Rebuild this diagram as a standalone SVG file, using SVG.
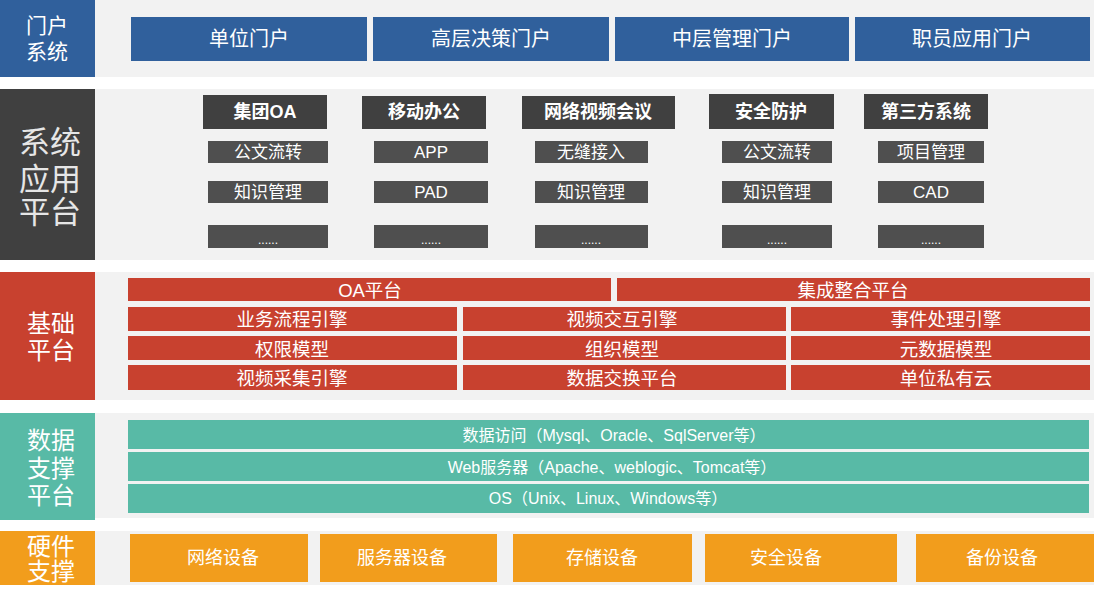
<svg xmlns="http://www.w3.org/2000/svg" width="1094" height="598" viewBox="0 0 1094 598">
<style>
text{font-family:"Liberation Sans","Noto Sans CJK SC",sans-serif;fill:#ffffff;text-anchor:middle;dominant-baseline:central}
.band{fill:#f2f2f2}
.blue{fill:#30609c}
.dark{fill:#404040}
.item{fill:#4f4f4f}
.red{fill:#c8412f}
.teal{fill:#58baa6}
.orange{fill:#f29d1c}
.lbl{font-size:21px}
.lbl2{font-size:24px}
.portal{font-size:20px}
.hdr{font-size:18px;font-weight:bold}
.it{font-size:17px}
.dots{font-size:12px}
.rt{font-size:18.5px}
.tt{font-size:16px}
.ot{font-size:18px}
</style>
<rect width="1094" height="598" fill="#ffffff"/>
<g id="bands">
<rect class="band" x="95" y="0" width="999" height="77"/>
<rect class="band" x="95" y="89" width="999" height="171"/>
<rect class="band" x="95" y="272" width="999" height="128"/>
<rect class="band" x="95" y="413" width="999" height="105"/>
<rect class="band" x="95" y="531" width="999" height="54"/>
</g>
<g id="label-portal"><rect class="blue" x="0" y="0" width="95" height="77"/><text class="lbl" x="47" y="25">门户</text><text class="lbl" x="47" y="51">系统</text></g>
<g id="portal-1"><rect class="blue" x="131" y="17" width="236" height="44"/><text class="portal" x="249" y="39">单位门户</text></g>
<g id="portal-2"><rect class="blue" x="373" y="17" width="236" height="44"/><text class="portal" x="491" y="39">高层决策门户</text></g>
<g id="portal-3"><rect class="blue" x="615" y="17" width="234" height="44"/><text class="portal" x="732" y="39">中层管理门户</text></g>
<g id="portal-4"><rect class="blue" x="855" y="17" width="235" height="44"/><text class="portal" x="972" y="39">职员应用门户</text></g>

<g id="label-app"><rect class="dark" x="0" y="89" width="95" height="171"/><text x="50" y="142" style="font-size:31px;fill:#e6e6e6">系统</text><text x="50" y="179" style="font-size:31px;fill:#e6e6e6">应用</text><text x="50" y="212" style="font-size:31px;fill:#e6e6e6">平台</text></g>

<g id="app-oa"><rect class="dark" x="203" y="95" width="124" height="34"/><text class="hdr" x="265" y="112">集团OA</text>
<rect class="item" x="208" y="141" width="120" height="22"/><text class="it" x="268" y="152">公文流转</text>
<rect class="item" x="208" y="181" width="120" height="22"/><text class="it" x="268" y="192">知识管理</text>
<rect class="item" x="208" y="225" width="120" height="23"/><text class="dots" x="268" y="240">......</text></g>

<g id="app-mobile"><rect class="dark" x="362" y="96" width="124" height="33"/><text class="hdr" x="424" y="112">移动办公</text>
<rect class="item" x="374" y="141" width="114" height="22"/><text class="it" x="431" y="152">APP</text>
<rect class="item" x="374" y="181" width="114" height="22"/><text class="it" x="431" y="192">PAD</text>
<rect class="item" x="374" y="225" width="114" height="23"/><text class="dots" x="431" y="240">......</text></g>

<g id="app-video"><rect class="dark" x="522" y="96" width="153" height="33"/><text class="hdr" x="598" y="112">网络视频会议</text>
<rect class="item" x="535" y="141" width="113" height="22"/><text class="it" x="591" y="152">无缝接入</text>
<rect class="item" x="535" y="181" width="113" height="22"/><text class="it" x="591" y="192">知识管理</text>
<rect class="item" x="535" y="225" width="113" height="23"/><text class="dots" x="591" y="240">......</text></g>

<g id="app-security"><rect class="dark" x="709" y="94" width="125" height="35"/><text class="hdr" x="771" y="112">安全防护</text>
<rect class="item" x="722" y="141" width="110" height="22"/><text class="it" x="777" y="152">公文流转</text>
<rect class="item" x="722" y="181" width="110" height="22"/><text class="it" x="777" y="192">知识管理</text>
<rect class="item" x="722" y="225" width="110" height="23"/><text class="dots" x="777" y="240">......</text></g>

<g id="app-third"><rect class="dark" x="864" y="94" width="124" height="35"/><text class="hdr" x="926" y="112">第三方系统</text>
<rect class="item" x="878" y="141" width="106" height="22"/><text class="it" x="931" y="152">项目管理</text>
<rect class="item" x="878" y="181" width="106" height="22"/><text class="it" x="931" y="192">CAD</text>
<rect class="item" x="878" y="225" width="106" height="23"/><text class="dots" x="931" y="240">......</text></g>

<g id="label-base"><rect class="red" x="0" y="272" width="95" height="128"/><text class="lbl2" x="51" y="323">基础</text><text class="lbl2" x="51" y="350">平台</text></g>
<g id="base-oa"><rect class="red" x="128" y="278" width="483" height="23"/><text class="rt" x="370" y="290">OA平台</text></g>
<g id="base-integ"><rect class="red" x="617" y="278" width="473" height="23"/><text class="rt" x="853" y="290">集成整合平台</text></g>
<g id="base-r2a"><rect class="red" x="128" y="307" width="329" height="24"/><text class="rt" x="292" y="319">业务流程引擎</text></g>
<g id="base-r2b"><rect class="red" x="463" y="307" width="323" height="24"/><text class="rt" x="622" y="319">视频交互引擎</text></g>
<g id="base-r2c"><rect class="red" x="791" y="307" width="299" height="24"/><text class="rt" x="946" y="319">事件处理引擎</text></g>
<g id="base-r3a"><rect class="red" x="128" y="336" width="329" height="24"/><text class="rt" x="292" y="349">权限模型</text></g>
<g id="base-r3b"><rect class="red" x="463" y="336" width="323" height="24"/><text class="rt" x="622" y="349">组织模型</text></g>
<g id="base-r3c"><rect class="red" x="791" y="336" width="299" height="24"/><text class="rt" x="946" y="349">元数据模型</text></g>
<g id="base-r4a"><rect class="red" x="128" y="365" width="329" height="25"/><text class="rt" x="292" y="378">视频采集引擎</text></g>
<g id="base-r4b"><rect class="red" x="463" y="365" width="323" height="25"/><text class="rt" x="622" y="378">数据交换平台</text></g>
<g id="base-r4c"><rect class="red" x="791" y="365" width="299" height="25"/><text class="rt" x="946" y="378">单位私有云</text></g>

<g id="label-data"><rect class="teal" x="0" y="413" width="95" height="107"/><text class="lbl2" x="51" y="440">数据</text><text class="lbl2" x="51" y="468">支撑</text><text class="lbl2" x="51" y="495">平台</text></g>
<g id="data-db"><rect class="teal" x="128" y="420" width="961" height="29"/><text class="tt" x="614" y="435">数据访问（Mysql、Oracle、SqlServer等）</text></g>
<g id="data-web"><rect class="teal" x="128" y="452" width="961" height="29"/><text class="tt" x="612" y="467">Web服务器（Apache、weblogic、Tomcat等）</text></g>
<g id="data-os"><rect class="teal" x="128" y="484" width="961" height="29"/><text class="tt" x="608" y="498">OS（Unix、Linux、Windows等）</text></g>

<g id="label-hw"><rect class="orange" x="0" y="531" width="95" height="54"/><text class="lbl2" x="51" y="546">硬件</text><text class="lbl2" x="51" y="571">支撑</text></g>
<g id="hw-net"><rect class="orange" x="130" y="534" width="178" height="48"/><text class="ot" x="223" y="558">网络设备</text></g>
<g id="hw-server"><rect class="orange" x="320" y="534" width="177" height="48"/><text class="ot" x="402" y="558">服务器设备</text></g>
<g id="hw-storage"><rect class="orange" x="513" y="534" width="179" height="48"/><text class="ot" x="602" y="558">存储设备</text></g>
<g id="hw-security"><rect class="orange" x="705" y="534" width="192" height="48"/><text class="ot" x="786" y="558">安全设备</text></g>
<g id="hw-backup"><rect class="orange" x="916" y="534" width="178" height="48"/><text class="ot" x="1002" y="558">备份设备</text></g>
<g id="connectors"></g>
</svg>
